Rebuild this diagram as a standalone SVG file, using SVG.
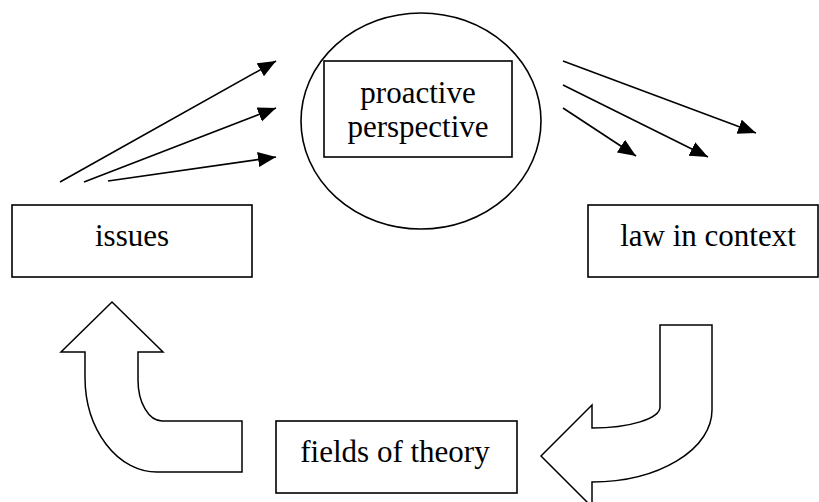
<svg xmlns="http://www.w3.org/2000/svg" width="819" height="502" viewBox="0 0 819 502">
<style>
.box{fill:#fff;stroke:#000;stroke-width:1.6}
.txt{font-family:"Liberation Serif","DejaVu Serif","Times New Roman",serif;font-size:31px;fill:#000;text-anchor:middle}
.con{stroke:#000;stroke-width:1.6;fill:none;marker-end:url(#ah)}
.bend{fill:#fff;stroke:#000;stroke-width:1.5;stroke-linejoin:miter}
</style>
<defs>
<marker id="ah" markerUnits="userSpaceOnUse" markerWidth="20" markerHeight="16" refX="18" refY="7.5" orient="auto">
<path d="M0,0 L18,7.5 L0,15 z" fill="#000"/>
</marker>
</defs>
<rect width="819" height="502" fill="#fff"/>
<g id="proactive">
<ellipse cx="421" cy="121" rx="120" ry="108" fill="none" stroke="#000" stroke-width="1.6"/>
<rect class="box" x="324" y="61" width="188" height="96"/>
<text class="txt" x="418" y="103">proactive</text>
<text class="txt" x="418" y="137">perspective</text>
</g>
<g id="issues">
<rect class="box" x="12" y="205" width="240" height="72"/>
<text class="txt" x="132" y="246">issues</text>
</g>
<g id="law">
<rect class="box" x="588" y="205" width="230" height="72"/>
<text class="txt" x="708" y="246">law in context</text>
</g>
<g id="fields">
<rect class="box" x="276" y="421" width="241" height="72"/>
<text class="txt" x="395" y="462">fields of theory</text>
</g>
<g id="connectors">
<line class="con" x1="60" y1="182" x2="276" y2="61"/>
<line class="con" x1="84" y1="182" x2="276" y2="108"/>
<line class="con" x1="108" y1="181" x2="276" y2="157"/>
<line class="con" x1="563" y1="61" x2="756" y2="133"/>
<line class="con" x1="563" y1="85" x2="708" y2="157"/>
<line class="con" x1="563" y1="108" x2="636" y2="156"/>
<path class="bend" d="M112,302 L163,352 L138,352 L138,380 A24,41 0 0 0 162,421 L242,421 L242,472 L157,472 A72,95 0 0 1 85,377 L85,352 L61,352 Z"/>
<path class="bend" d="M660,325 L712,325 L712,410 A120,72 0 0 1 592,482 L592,507 L541,456 L592,405 L592,428 A68,21 0 0 0 660,407 Z"/>
</g>
</svg>
